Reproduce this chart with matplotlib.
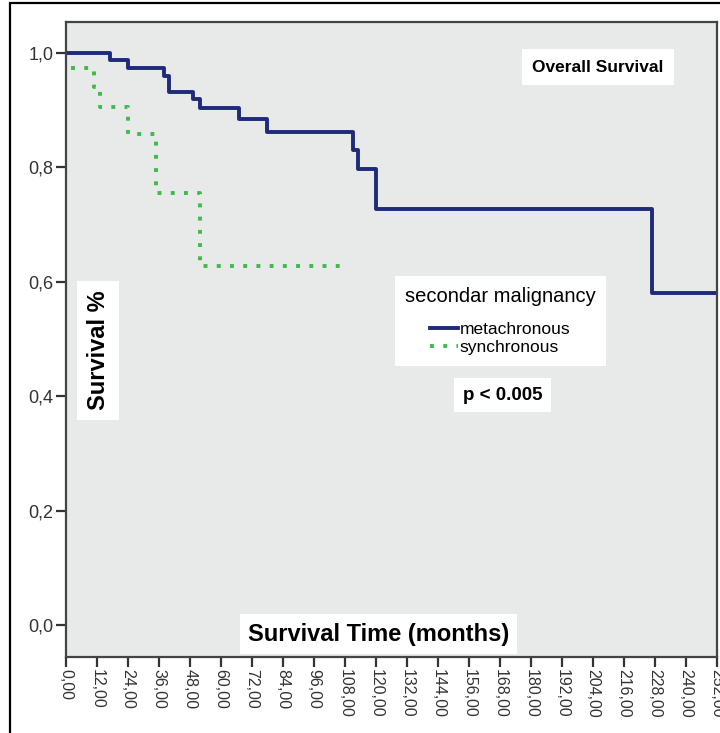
import matplotlib
matplotlib.use("Agg")
from matplotlib import pyplot as plt
from matplotlib.patches import Rectangle
from matplotlib.lines import Line2D

plt.rcParams['font.family'] = ['Liberation Sans', 'DejaVu Sans']

# Kaplan-Meier steps
meta_t = [0, 17, 24, 38, 40, 49, 52, 67, 78, 111, 113, 120, 227, 252]
meta_s = [1.0, 0.988, 0.974, 0.96, 0.932, 0.92, 0.904, 0.885, 0.862, 0.830, 0.798, 0.727, 0.581, 0.581]
sync_t = [2, 11, 13, 24, 35, 52, 106]
sync_s = [0.974, 0.94, 0.906, 0.859, 0.755, 0.627, 0.627]

x_ticks = list(range(0, 253, 12))
x_labels = ["%d,00" % t for t in x_ticks]
y_ticks = [0.0, 0.2, 0.4, 0.6, 0.8, 1.0]
y_labels = ["0,0", "0,2", "0,4", "0,6", "0,8", "1,0"]

blue = '#1f2a78'
green = '#3dbb4a'
dots = (0, (1, 2.4))

fig = plt.figure(figsize=(7.2, 7.33), dpi=100)
ax = fig.add_axes([0.0917, 0.1037, 0.904, 0.866])
ax.set_facecolor('#e8e9e9')

ax.step(meta_t, meta_s, where='post', color=blue, lw=2.8)
ax.step(sync_t, sync_s, where='post', color=green, lw=2.8, linestyle=dots)

ax.set_xlim(0, 252)
ax.set_ylim(-0.056, 1.054)
ax.set_xticks(x_ticks)
ax.set_xticklabels(x_labels, rotation=270, fontsize=11.5, color='#333333')
ax.set_yticks(y_ticks)
ax.set_yticklabels(y_labels, fontsize=13, color='#333333')
ax.tick_params(direction='out', length=7, width=1.6, color='#333333', pad=2)
for s in ax.spines.values():
    s.set_linewidth(1.6)
    s.set_color('#444444')

ax.text(206, 0.975, 'Overall Survival', fontsize=12.5, fontweight='bold',
        ha='center', va='center', bbox=dict(facecolor='white', edgecolor='none',
                                           boxstyle='square,pad=0.6'))
ax.text(12.5, 0.48, 'Survival %', fontsize=17, fontweight='bold', rotation=90,
        ha='center', va='center', bbox=dict(facecolor='white', edgecolor='none',
                                           boxstyle='square,pad=0.4'))
ax.text(121, -0.016, 'Survival Time (months)', fontsize=17, fontweight='bold',
        ha='center', va='center', bbox=dict(facecolor='white', edgecolor='none',
                                           boxstyle='square,pad=0.35'))
ax.text(169, 0.402, 'p < 0.005', fontsize=13.5, fontweight='bold',
        ha='center', va='center', bbox=dict(facecolor='white', edgecolor='none',
                                           boxstyle='square,pad=0.45'))

handles = [Line2D([], [], color=blue, lw=2.8),
           Line2D([], [], color=green, lw=2.8, linestyle=dots)]
leg = ax.legend(handles, ['metachronous', 'synchronous'], title='secondar malignancy',
                loc='upper left', bbox_to_anchor=(0.505, 0.60), borderaxespad=0,
                fontsize=12.5, title_fontsize=14.5, frameon=True, fancybox=False,
                handlelength=1.6, handletextpad=0.1, borderpad=0.6,
                labelspacing=0.15)
leg._legend_box.sep = 12  # more room under the title
leg.get_frame().set_edgecolor('none')
leg.get_frame().set_facecolor('white')
leg.get_frame().set_alpha(1)

# outer frame of the figure
fig.patches.append(Rectangle((0.014, -0.01), 1.0, 1.006, transform=fig.transFigure,
                             fill=False, edgecolor='black', lw=1.6))

fig.savefig('out.png', dpi=100, facecolor='white')
